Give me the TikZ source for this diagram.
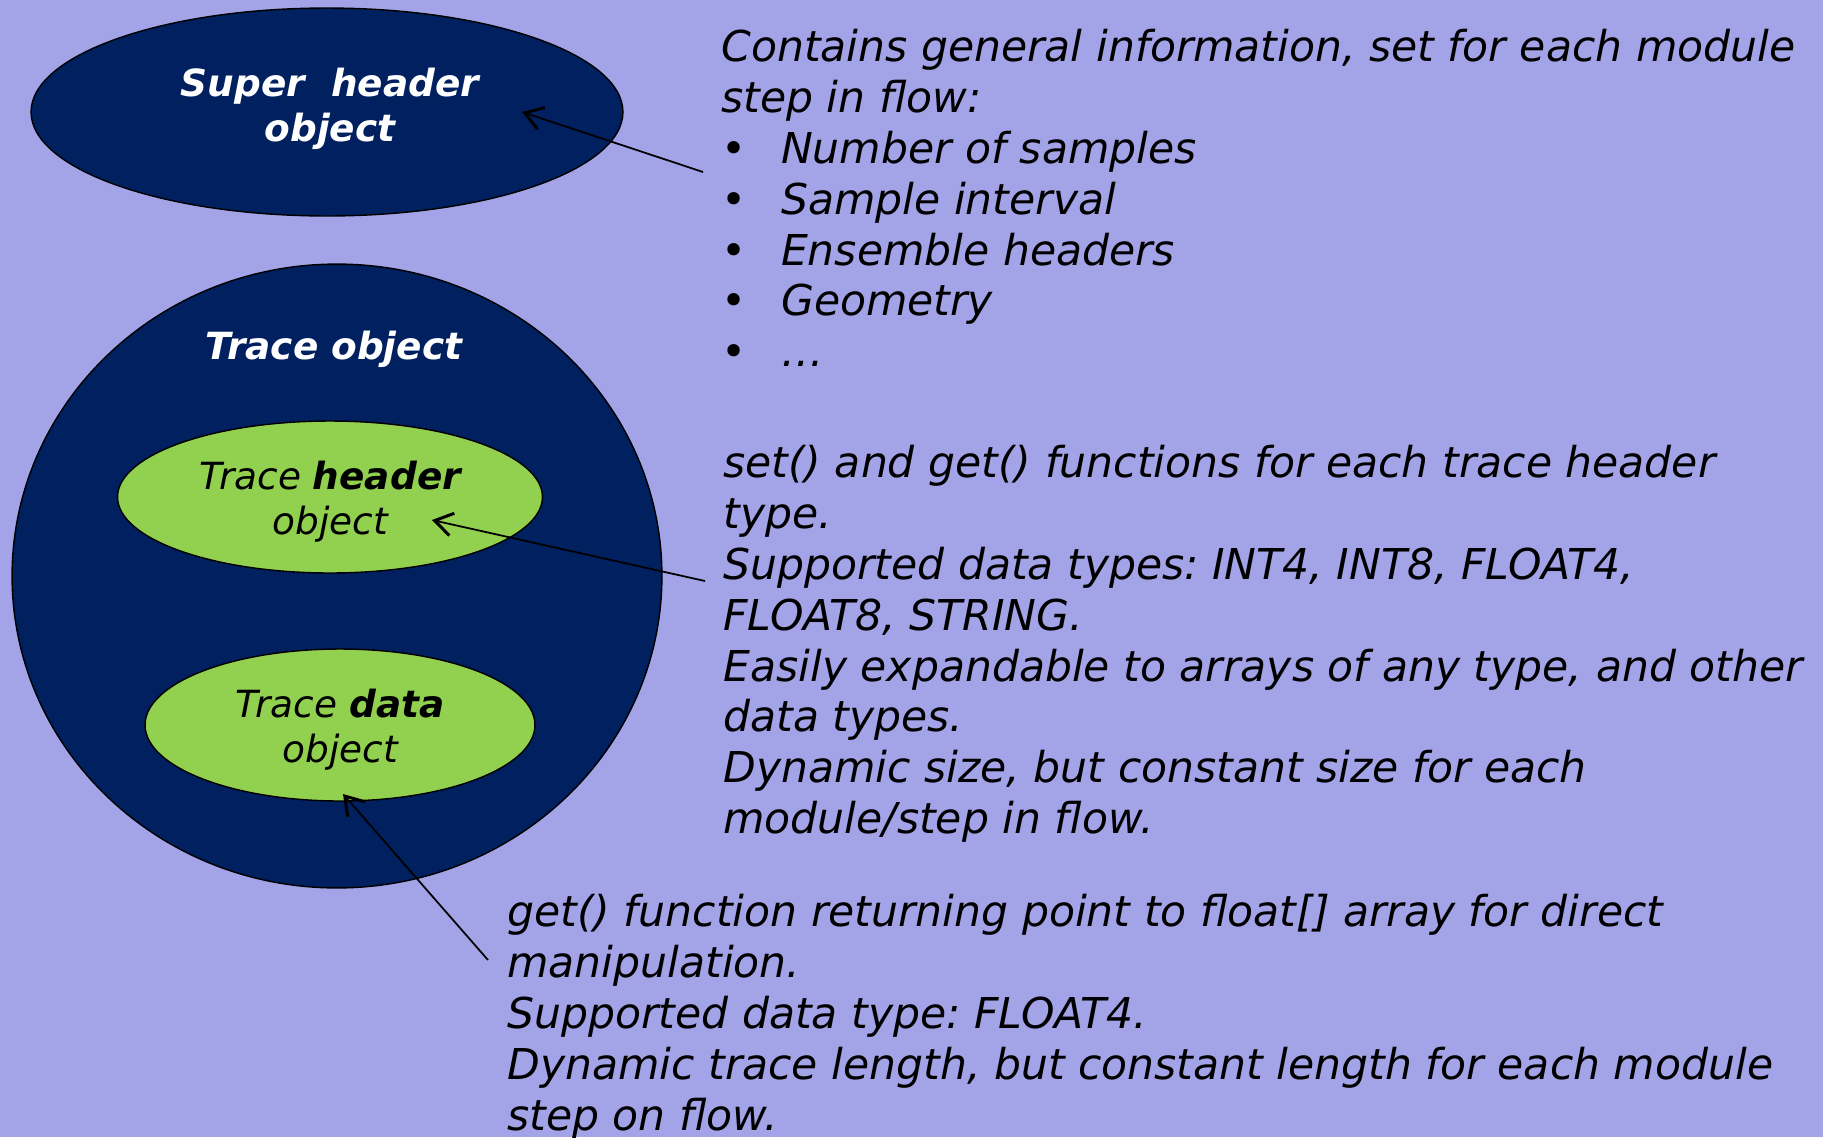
\documentclass[tikz,border=0pt]{standalone}
\usepackage{fontspec}
\setmainfont{DejaVu Sans}
\usepackage{tikz}
\usetikzlibrary{shapes.geometric,arrows.meta}
\definecolor{TRBack}{HTML}{A3A3E8}
\definecolor{TRNavy}{HTML}{002060}
\definecolor{TRGreen}{HTML}{92D050}
\newcommand{\bitem}[1]{\makebox[34pt][l]{\textbullet}#1}
\frenchspacing

\begin{document}
\begin{tikzpicture}[x=0.02cm,y=-0.02cm,
  navyblob/.style={ellipse,draw=black,line width=0.8pt,fill=TRNavy,inner sep=0pt},
  greenblob/.style={ellipse,draw=black,line width=0.8pt,fill=TRGreen,inner sep=0pt},
  greenlbl/.style={align=center,font=\fontsize{21.3}{25.5}\selectfont\itshape},
  whitelbl/.style={text=white,align=center,font=\fontsize{21.3}{25.5}\selectfont\bfseries\itshape},
  note/.style={anchor=north west,inner sep=0pt,align=left,font=\fontsize{24.2}{28.95}\selectfont\itshape},
  pointer/.style={-{Straight Barb[length=10pt,width=13pt,line width=1.7pt]},line width=1pt}]
\fill[TRBack] (0,0) rectangle (1823,1137);
\useasboundingbox (0,0) rectangle (1823,1137);
% objects
\node[navyblob,minimum width=11.84cm,minimum height=4.16cm] (super) at (327,112) {};
\node[whitelbl,xshift=1.7pt,yshift=1.7pt] (superlbl) at (super) {Super\ \ header\\object};
\node[navyblob,minimum width=13cm,minimum height=12.48cm] (trace) at (337,576) {};
\node[whitelbl,anchor=base] (tracelbl) at (334,359) {Trace object};
\node[greenblob,minimum width=8.5cm,minimum height=3.04cm] (thead) at (330,497) {};
\node[greenlbl,yshift=-2.8pt] (theadlbl) at (thead) {Trace \textbf{header}\\object};
\node[greenblob,minimum width=7.8cm,minimum height=3.04cm] (tdata) at (340,725) {};
\node[greenlbl,yshift=-2.8pt] (tdatalbl) at (tdata) {Trace \textbf{data}\\object};
% notes
\node[note] (supernote) at (721,29) {Contains general information, set for each module\\
step in flow:\\
\bitem{Number of samples}\\
\bitem{Sample interval}\\
\bitem{Ensemble headers}\\
\bitem{Geometry}\\
\bitem{\dots}};
\node[note] (headnote) at (723,445) {set() and get() functions for each trace header\\
type.\\
Supported data types: INT4, INT8, FLOAT4,\\
FLOAT8, STRING.\\
Easily expandable to arrays of any type, and other\\
data types.\\
Dynamic size, but constant size for each\\
module/step in flow.};
\node[note] (datanote) at (507,894) {get() function returning point to float[] array for direct\\
manipulation.\\
Supported data type: FLOAT4.\\
Dynamic trace length, but constant length for each module\\
step on flow.};
% pointers
\coordinate (p1) at (703,172);
\coordinate (h1) at (522,112);
\coordinate (p2) at (705,581);
\coordinate (h2) at (432,520);
\coordinate (p3) at (488,960);
\coordinate (h3) at (343,794);
\draw[pointer] (p1) -- (h1);
\draw[pointer] (p2) -- (h2);
\draw[pointer] (p3) -- (h3);
\end{tikzpicture}
\end{document}
